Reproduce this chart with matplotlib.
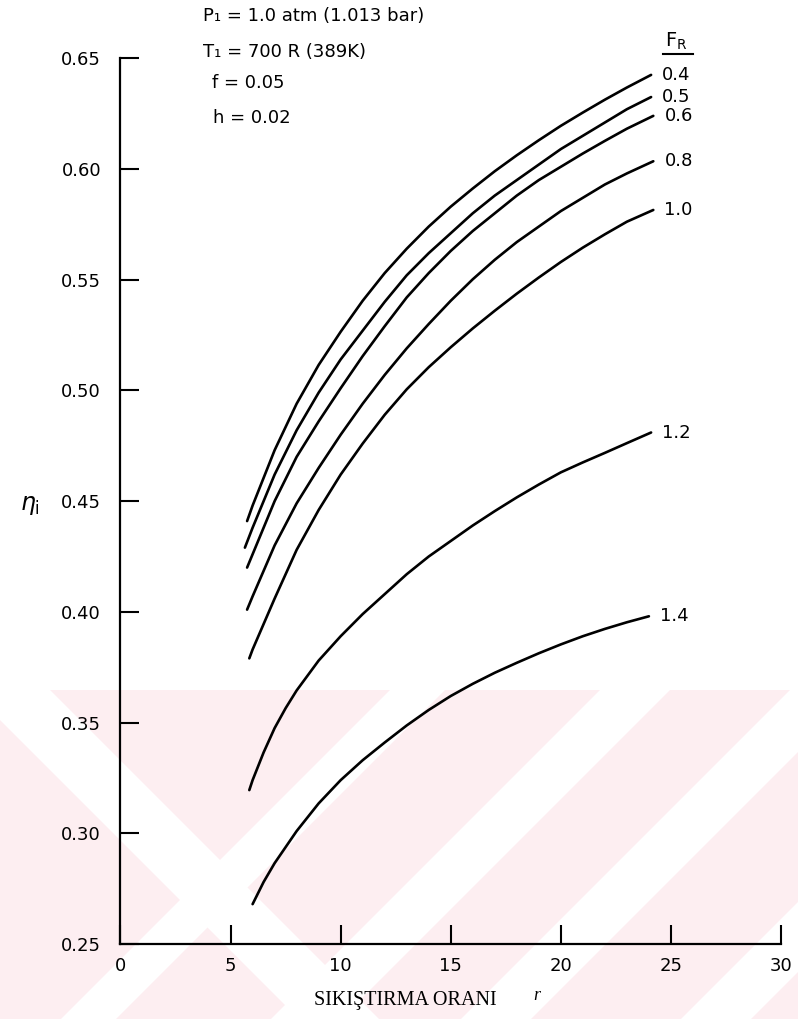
import numpy as np
import matplotlib
matplotlib.use('Agg')
import matplotlib.pyplot as plt
from matplotlib.patches import Polygon
from matplotlib.lines import Line2D

# Compression ratio r and indicated efficiency eta_i,
# one pair of lists per equivalence ratio F_R
r_04 = [5.75, 6, 7, 8, 9, 10, 11, 12, 13, 14, 15, 16, 17, 18, 19, 20, 21, 22, 23, 24.1]
eta_04 = [0.441, 0.448, 0.473, 0.494, 0.5115, 0.5265, 0.5405, 0.553, 0.564, 0.574, 0.583, 0.5912,
          0.599, 0.6062, 0.613, 0.6195, 0.6255, 0.6313, 0.6368, 0.6425]

r_05 = [5.65, 6, 7, 8, 9, 10, 11, 12, 13, 14, 15, 16, 17, 18, 19, 20, 21, 22, 23, 24.1]
eta_05 = [0.429, 0.438, 0.462, 0.482, 0.499, 0.514, 0.527, 0.540, 0.552, 0.562, 0.571, 0.580,
          0.588, 0.595, 0.602, 0.609, 0.615, 0.621, 0.627, 0.6325]

r_06 = [5.75, 6, 7, 8, 9, 10, 11, 12, 13, 14, 15, 16, 17, 18, 19, 20, 21, 22, 23, 24.2]
eta_06 = [0.420, 0.426, 0.450, 0.470, 0.486, 0.501, 0.5155, 0.529, 0.542, 0.553, 0.563, 0.572,
          0.580, 0.588, 0.595, 0.601, 0.607, 0.6127, 0.6182, 0.624]

r_08 = [5.75, 6, 7, 8, 9, 10, 11, 12, 13, 14, 15, 16, 17, 18, 19, 20, 21, 22, 23, 24.2]
eta_08 = [0.401, 0.407, 0.430, 0.449, 0.465, 0.480, 0.494, 0.507, 0.519, 0.530, 0.5405, 0.5502,
          0.559, 0.567, 0.574, 0.581, 0.587, 0.593, 0.598, 0.6035]

r_10 = [5.85, 6, 7, 8, 9, 10, 11, 12, 13, 14, 15, 16, 17, 18, 19, 20, 21, 22, 23, 24.2]
eta_10 = [0.379, 0.383, 0.406, 0.428, 0.446, 0.462, 0.476, 0.489, 0.5005, 0.5105, 0.5195, 0.528,
          0.536, 0.5437, 0.551, 0.558, 0.5645, 0.5705, 0.5762, 0.5815]

r_12 = [5.85, 6, 6.5, 7, 7.5, 8, 9, 10, 11, 12, 13, 14, 15, 16, 17, 18, 19, 20, 21, 22, 23, 24.1]
eta_12 = [0.3195, 0.324, 0.3365, 0.3475, 0.3565, 0.3645, 0.378, 0.389, 0.399, 0.408, 0.417, 0.425,
          0.432, 0.439, 0.4455, 0.4517, 0.4575, 0.463, 0.4675, 0.4718, 0.4762, 0.481]

r_14 = [6, 6.5, 7, 8, 9, 10, 11, 12, 13, 14, 15, 16, 17, 18, 19, 20, 21, 22, 23, 24]
eta_14 = [0.268, 0.278, 0.2865, 0.301, 0.3135, 0.324, 0.333, 0.341, 0.3487, 0.3557, 0.362, 0.3675,
          0.3725, 0.377, 0.3813, 0.3853, 0.389, 0.3923, 0.3953, 0.398]

fr_labels = ['0.4', '0.5', '0.6', '0.8', '1.0', '1.2', '1.4']
curves = [(r_04, eta_04), (r_05, eta_05), (r_06, eta_06), (r_08, eta_08),
          (r_10, eta_10), (r_12, eta_12), (r_14, eta_14)]

x_ticks = [0, 5, 10, 15, 20, 25, 30]
y_ticks = [0.25, 0.30, 0.35, 0.40, 0.45, 0.50, 0.55, 0.60, 0.65]

conditions = ['P₁ = 1.0 atm (1.013 bar)', 'T₁ = 700 R (389K)', 'f = 0.05', 'h = 0.02']

W, H = 798, 1019
fig = plt.figure(figsize=(W / 100, H / 100), dpi=100)


def to_fig(pts):
    # pixel position (from top-left) -> figure fraction
    return [(x / W, 1 - y / H) for x, y in pts]


# faint pink watermark of the scan in the lower part
fig.add_artist(Polygon(to_fig([(0, 690), (W, 690), (W, H), (0, H)]),
                       closed=True, fc='#fdeef1', ec='none', zorder=-10))
fig.add_artist(Polygon(to_fig([(-30, 690), (50, 690), (379, H), (299, H)]),
                       closed=True, fc='white', ec='none', zorder=-9))
for a, w in [(1080, 55), (1290, 70), (1480, 70), (1700, 70), (1920, 70)]:
    band = [(a - 690, 690), (a + w - 690, 690), (a + w - H, H), (a - H, H)]
    fig.add_artist(Polygon(to_fig(band), closed=True, fc='white', ec='none', zorder=-9))

ax = fig.add_axes([0.151, 0.0736, 0.8277, 0.8692])
ax.patch.set_visible(False)

# Curves
for (r, eta), lbl in zip(curves, fr_labels):
    ax.plot(r, eta, color='black', lw=1.9, solid_capstyle='round', solid_joinstyle='round')
    ax.annotate(lbl, xy=(r[-1], eta[-1]), xytext=(8, 0), textcoords='offset points',
                va='center', ha='left', fontsize=13)

ax.set_xlim(0, 30)
ax.set_ylim(0.25, 0.65)
ax.set_xticks(x_ticks)
ax.set_yticks(y_ticks)
ax.set_yticklabels(['%.2f' % v for v in y_ticks])

for side in ['top', 'right']:
    ax.spines[side].set_visible(False)
for side in ['left', 'bottom']:
    ax.spines[side].set_linewidth(1.6)
ax.tick_params(axis='both', direction='in', length=14, width=1.5, labelsize=13)
ax.tick_params(axis='y', pad=14)
ax.tick_params(axis='x', pad=9)

# F_R heading over the curve labels
ax.text(24.75, 0.6575, r'F$_\mathregular{R}$', fontsize=14, ha='left', va='center')
fig.add_artist(Line2D([663 / W, 693 / W], [1 - 54 / H, 1 - 54 / H], color='black', lw=1.5))

# Axis labels
fig.text(405 / W, 1 - 1000 / H, 'SIKIŞTIRMA ORANI', family='Liberation Serif',
         fontsize=14.5, ha='center', va='center')
fig.text(537 / W, 1 - 996 / H, 'r', family='Liberation Serif', fontsize=13,
         style='italic', ha='center', va='center')
fig.text(30 / W, 1 - 505 / H, r'$\eta_\mathregular{i}$', fontsize=17, ha='center', va='center')

# Operating conditions, top left
for txt, x, y in zip(conditions, [203, 203, 212, 213], [16, 52, 83, 118]):
    fig.text(x / W, 1 - y / H, txt, fontsize=13, ha='left', va='center')

plt.savefig('out.png', dpi=100)
